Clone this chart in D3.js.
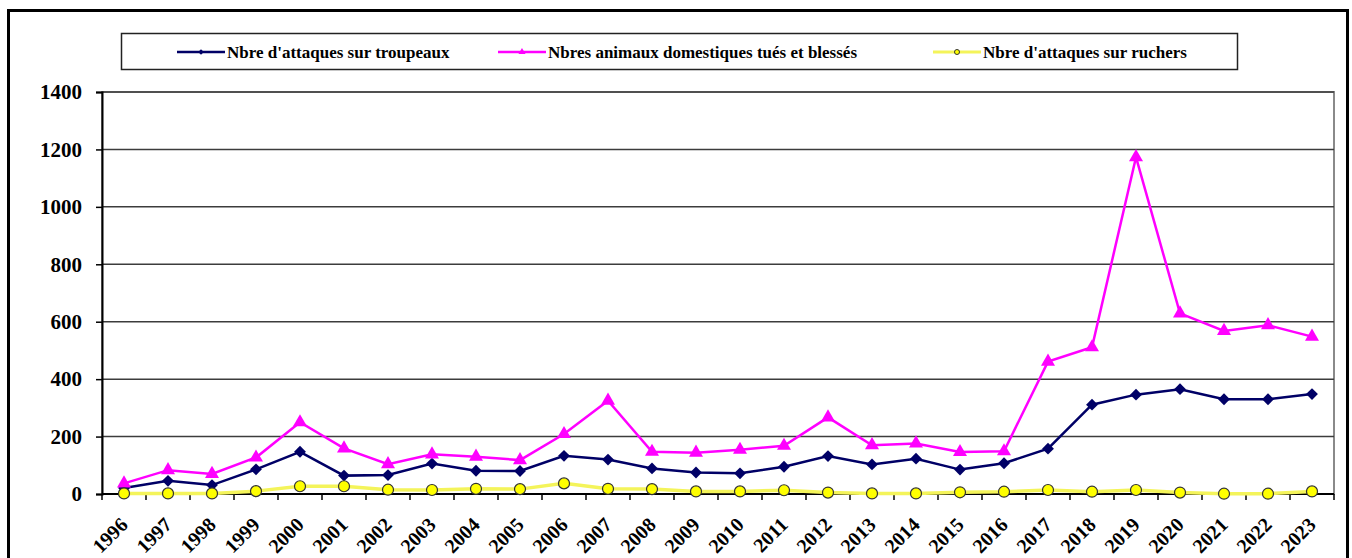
<!DOCTYPE html>
<html>
<head>
<meta charset="utf-8">
<script src="https://cdn.jsdelivr.net/npm/d3@7"></script>
<style>
    body { margin: 0; background: #fff; }
</style>
</head>
<body>
<div id="chart"></div>
<script>
//Chart data
let years = ["1996", "1997", "1998", "1999", "2000", "2001", "2002", "2003", "2004", "2005",
    "2006", "2007", "2008", "2009", "2010", "2011", "2012", "2013", "2014", "2015",
    "2016", "2017", "2018", "2019", "2020", "2021", "2022", "2023"];
let troupeaux = [21, 46, 31, 86, 147, 64, 66, 106, 81, 80, 133, 120, 89, 75, 72, 95, 132, 103, 123, 85, 107, 158, 311, 346, 365, 330, 330, 348];
let animaux = [37, 83, 70, 127, 250, 159, 104, 138, 130, 118, 209, 325, 147, 144, 154, 168, 267, 170, 176, 146, 149, 461, 511, 1173, 629, 568, 588, 548];
let ruchers = [2, 2, 2, 10, 27, 27, 15, 14, 18, 17, 37, 18, 17, 9, 9, 13, 5, 2, 2, 6, 8, 14, 8, 14, 5, 1, 1, 9];
let yTicks = [0, 200, 400, 600, 800, 1000, 1200, 1400];
let legendLabels = ["Nbre d'attaques sur troupeaux", "Nbres animaux domestiques tués et blessés", "Nbre d'attaques sur ruchers"];

//Set graph size
let svgWidth = 1352;
let svgHeight = 558;
let plot = { left: 102, right: 1334, top: 92, bottom: 494 };
let serif = "'Liberation Serif', 'DejaVu Serif', serif";

//Create scales
let x = d3.scaleBand().domain(years).range([plot.left, plot.right]);
let y = d3.scaleLinear().domain([0, 1400]).range([plot.bottom, plot.top]);
let cx = function(d, i) { return x(years[i]) + x.bandwidth() / 2; };

let svg = d3.select("#chart")
    .append("svg")
    .attr("width", svgWidth)
    .attr("height", svgHeight);

//Outer frame
svg.append("rect")
    .attr("x", 8.5).attr("y", 10.5)
    .attr("width", 1339).attr("height", 600)
    .attr("fill", "none")
    .attr("stroke", "#000")
    .attr("stroke-width", 3);

//Plot area border (grey)
svg.append("rect")
    .attr("x", plot.left).attr("y", plot.top)
    .attr("width", plot.right - plot.left).attr("height", plot.bottom - plot.top)
    .attr("fill", "none")
    .attr("stroke", "#8a8a8a")
    .attr("stroke-width", 2);

//Horizontal grid lines
svg.selectAll("line.grid")
    .data(yTicks.slice(1))
    .enter()
    .append("line")
    .attr("class", "grid")
    .attr("x1", plot.left).attr("x2", plot.right)
    .attr("y1", function(d) { return y(d) }).attr("y2", function(d) { return y(d) })
    .attr("stroke", "#3c3c3c")
    .attr("stroke-width", 1.5);

//Y axis
let yAxis = svg.append("g")
    .attr("transform", "translate(" + plot.left + ",0)")
    .call(d3.axisLeft(y).tickValues(yTicks).tickSize(6).tickPadding(14).tickFormat(d3.format("d")));
yAxis.attr("font-family", null).attr("font-size", null);
yAxis.select(".domain").attr("stroke", "#000").attr("stroke-width", 2);
yAxis.selectAll(".tick line").attr("stroke", "#000").attr("stroke-width", 1.5);
yAxis.selectAll(".tick text")
    .style("font-family", serif)
    .style("font-weight", "bold")
    .style("font-size", "21px")
    .attr("fill", "#000");

//X axis line and ticks between categories
svg.append("line")
    .attr("x1", plot.left).attr("x2", plot.right)
    .attr("y1", plot.bottom).attr("y2", plot.bottom)
    .attr("stroke", "#000").attr("stroke-width", 2);

svg.selectAll("line.xtick")
    .data(years.concat(["end"]))
    .enter()
    .append("line")
    .attr("class", "xtick")
    .attr("x1", function(d) { return d === "end" ? plot.right : x(d) })
    .attr("x2", function(d) { return d === "end" ? plot.right : x(d) })
    .attr("y1", plot.bottom).attr("y2", plot.bottom + 6)
    .attr("stroke", "#000").attr("stroke-width", 1.5);

//Rotated year labels
svg.selectAll("text.year")
    .data(years)
    .enter()
    .append("text")
    .attr("class", "year")
    .attr("transform", function(d) { return "translate(" + (x(d) + x.bandwidth() / 2 + 5) + "," + (plot.bottom + 32) + ") rotate(-45)" })
    .attr("text-anchor", "end")
    .style("font-family", serif)
    .style("font-weight", "bold")
    .style("font-size", "20px")
    .attr("fill", "#000")
    .text(function(d) { return d });

//Line generator
let line = d3.line()
    .x(function(d, i) { return cx(d, i) })
    .y(function(d) { return y(d) });

//Rucher line (yellow, drawn first)
svg.append("path")
    .attr("d", line(ruchers))
    .attr("fill", "none")
    .attr("stroke", "#f4f45a")
    .attr("stroke-width", 3.5);

//Troupeaux line
svg.append("path")
    .attr("d", line(troupeaux))
    .attr("fill", "none")
    .attr("stroke", "#000066")
    .attr("stroke-width", 2.5);

//Animaux line
svg.append("path")
    .attr("d", line(animaux))
    .attr("fill", "none")
    .attr("stroke", "#ff00ff")
    .attr("stroke-width", 2.5);

//Diamond markers
let diamond = d3.symbol().type(d3.symbolSquare).size(70);
svg.selectAll("path.diamond")
    .data(troupeaux)
    .enter()
    .append("path")
    .attr("class", "diamond")
    .attr("d", diamond)
    .attr("transform", function(d, i) { return "translate(" + cx(d, i) + "," + y(d) + ") rotate(45)" })
    .attr("fill", "#000066");

//Triangle markers
let triangle = d3.symbol().type(d3.symbolTriangle).size(85);
svg.selectAll("path.triangle")
    .data(animaux)
    .enter()
    .append("path")
    .attr("class", "triangle")
    .attr("d", triangle)
    .attr("transform", function(d, i) { return "translate(" + cx(d, i) + "," + y(d) + ")" })
    .attr("fill", "#ff00ff");

//Circle markers
svg.selectAll("circle.rucher")
    .data(ruchers)
    .enter()
    .append("circle")
    .attr("class", "rucher")
    .attr("cx", function(d, i) { return cx(d, i) })
    .attr("cy", function(d) { return y(d) })
    .attr("r", 5.5)
    .attr("fill", "#ffff00")
    .attr("stroke", "#333")
    .attr("stroke-width", 1.2);

//Legend box
svg.append("rect")
    .attr("x", 121.5).attr("y", 33.5)
    .attr("width", 1116).attr("height", 36)
    .attr("fill", "#fff")
    .attr("stroke", "#222")
    .attr("stroke-width", 1.5);

let legendX = [177, 498, 933];
let legendColors = ["#000066", "#ff00ff", "#f4f45a"];
let legendY = 52;

legendX.forEach(function(lx, i) {
    svg.append("line")
        .attr("x1", lx).attr("x2", lx + 48)
        .attr("y1", legendY).attr("y2", legendY)
        .attr("stroke", legendColors[i])
        .attr("stroke-width", i === 2 ? 3 : 2.5);
    svg.append("text")
        .attr("x", lx + 50).attr("y", legendY + 6)
        .style("font-family", serif)
        .style("font-weight", "bold")
        .style("font-size", "17px")
        .attr("fill", "#000")
        .text(legendLabels[i]);
});
svg.append("path")
    .attr("d", d3.symbol().type(d3.symbolSquare).size(16))
    .attr("transform", "translate(" + (legendX[0] + 24) + "," + legendY + ") rotate(45)")
    .attr("fill", "#000066");
svg.append("path")
    .attr("d", d3.symbol().type(d3.symbolTriangle).size(22))
    .attr("transform", "translate(" + (legendX[1] + 24) + "," + legendY + ")")
    .attr("fill", "#ff00ff");
svg.append("circle")
    .attr("cx", legendX[2] + 24).attr("cy", legendY)
    .attr("r", 2.5)
    .attr("fill", "#ffff00")
    .attr("stroke", "#333")
    .attr("stroke-width", 1);
</script>
</body>
</html>
